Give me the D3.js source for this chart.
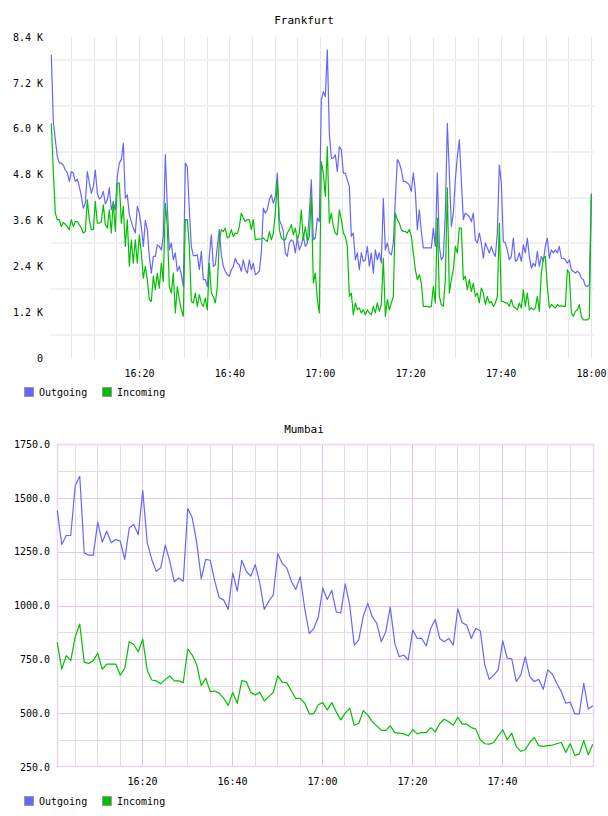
<!DOCTYPE html>
<html><head><meta charset="utf-8">
<script src="https://cdn.jsdelivr.net/npm/d3@7"></script>
<style>body{margin:0;background:#fff}svg{display:block}</style>
</head><body>
<svg id="c" width="608" height="816"></svg>
<script>
// ---------- DATA ----------
const seriesNames = ["Outgoing", "Incoming"];
const seriesColors = ["#6666ff", "#00c000"];

// Frankfurt: samples every 26.55 s starting 16:00:36, values in thousands
const fraStart = [16, 0, 36];
const fraStepMs = 26550;
const fraOutgoing = [
7.93,6.19,5.71,5.27,5.10,5.10,5.05,4.92,4.85,4.62,4.88,4.84,4.62,4.68,4.49,4.23,3.92,4.05,4.88,4.59,4.31,4.49,4.92,4.31,4.16,4.21,4.36,4.03,4.14,4.45,3.88,4.07,3.88,4.75,5.10,5.19,5.62,4.18,4.27,3.75,3.57,3.40,3.27,3.97,3.79,3.44,2.92,3.60,3.36,2.66,2.22,2.66,2.66,2.96,2.92,2.83,3.18,5.32,3.97,2.83,3.01,2.57,2.75,2.27,2.40,2.18,1.87,5.10,5.01,
3.88,2.92,2.68,2.68,2.70,2.31,2.79,2.05,2.05,1.87,2.66,3.22,2.40,2.44,2.92,3.36,2.70,2.40,2.27,2.18,2.14,2.31,2.40,2.61,2.48,2.44,2.27,2.57,2.31,2.22,2.57,2.31,2.48,2.18,2.22,2.27,2.75,3.92,3.79,3.88,4.14,4.27,4.05,4.23,4.84,3.62,3.49,3.31,2.75,2.66,3.01,3.09,3.05,2.75,3.14,2.83,2.96,3.18,2.92,3.01,3.81,4.66,3.09,3.14,3.66,3.57,6.75,6.97,6.84,
8.06,5.88,5.23,5.23,5.32,4.88,5.53,5.45,4.84,4.84,4.66,4.49,3.18,3.27,2.57,2.75,2.31,2.75,2.53,2.57,2.92,2.40,2.75,2.22,2.83,2.57,2.75,2.48,4.18,2.83,3.01,2.75,2.70,3.01,4.14,5.19,5.10,4.92,4.62,4.62,4.58,4.53,4.36,4.84,4.36,3.36,3.88,3.31,2.88,2.88,2.88,2.88,2.88,3.40,2.92,4.84,2.92,2.57,2.66,3.79,6.14,4.84,3.44,3.79,4.66,5.27,5.71,4.66,3.62,
3.79,3.75,3.70,3.57,3.79,3.09,3.01,3.27,3.01,2.61,3.01,2.88,2.75,2.92,2.75,2.66,3.27,5.05,4.58,3.05,3.01,2.83,2.57,2.66,3.14,2.53,2.57,2.75,2.53,2.96,2.75,3.14,2.66,2.35,2.48,2.40,2.79,2.40,2.66,2.53,2.92,3.14,2.61,2.83,2.75,2.83,2.75,2.92,2.61,2.61,2.57,2.48,2.57,2.31,2.27,2.22,2.27,2.22,2.09,2.05,1.89,1.87,1.92,4.31
];
const fraIncoming = [
6.14,4.88,3.79,3.62,3.62,3.44,3.55,3.50,3.44,3.36,3.62,3.44,3.57,3.57,3.49,3.40,3.27,3.31,4.14,3.62,3.36,3.36,4.10,3.53,3.53,3.57,4.01,3.49,3.40,3.88,3.27,4.10,3.31,4.58,4.58,3.53,3.97,2.92,3.62,2.40,3.09,2.48,3.09,2.48,3.22,2.75,2.09,2.40,2.05,1.53,1.48,2.14,1.79,2.22,1.83,2.48,2.00,4.05,3.44,1.87,1.70,2.22,1.18,1.87,1.53,1.26,1.09,3.62,3.62,
2.92,1.48,1.44,1.70,1.35,1.66,1.44,1.35,1.57,1.26,2.48,1.70,1.61,1.44,1.87,3.09,3.36,3.31,3.40,3.14,3.18,3.36,3.18,3.27,3.25,3.44,3.79,3.66,3.57,3.62,3.62,3.36,3.62,3.09,3.11,3.11,3.12,3.14,3.09,3.05,3.31,3.09,3.27,3.79,4.66,3.36,3.14,3.09,3.09,3.27,3.36,3.49,3.22,3.40,3.09,3.27,3.88,3.09,3.44,3.05,3.18,4.23,1.96,2.22,1.53,1.18,5.14,4.84,4.23,
5.53,3.53,3.79,3.44,3.27,3.22,3.88,3.62,3.27,3.18,2.92,1.61,1.70,1.13,1.44,1.26,1.31,1.18,1.26,1.13,1.26,1.18,1.13,1.35,1.18,1.44,1.22,1.40,2.61,1.09,1.53,1.26,1.44,1.61,3.79,3.62,3.53,3.36,3.31,3.31,3.27,3.36,3.18,2.75,2.31,2.05,2.18,1.96,1.35,1.35,1.35,1.33,1.35,1.87,1.44,3.66,1.61,1.40,1.35,2.05,4.45,1.70,2.05,2.31,2.92,2.75,3.40,3.40,2.05,
2.14,1.79,2.05,1.74,1.96,1.61,1.70,1.44,1.83,1.70,1.40,1.61,1.44,1.48,1.35,1.44,1.61,3.53,1.48,1.48,1.44,1.44,1.35,1.53,1.35,1.31,1.26,1.44,1.31,1.79,1.35,1.70,1.26,1.31,1.26,1.31,1.61,1.22,2.22,2.61,2.66,1.87,1.31,1.40,1.35,1.31,1.40,1.35,1.37,1.35,1.35,2.31,2.22,1.18,1.09,1.22,1.26,1.40,1.09,1.00,1.00,1.00,1.05,4.27
];
const fraYTicks = [0, 1.2, 2.4, 3.6, 4.8, 6.0, 7.2, 8.4];
const fraYLabels = ["0", "1.2 K", "2.4 K", "3.6 K", "4.8 K", "6.0 K", "7.2 K", "8.4 K"];
const fraYGrid = [0.6, 1.8, 3.0, 4.2, 5.4, 6.6, 7.8];
const fraXLabels = ["16:20", "16:40", "17:00", "17:20", "17:40", "18:00"];

// Mumbai: one sample per minute starting 16:01:10
const mumStart = [16, 1, 10];
const mumStepMs = 60000;
const mumOutgoing = [
1442,1283,1325,1325,1557,1600,1244,1234,1234,1387,1294,1345,1291,1306,1299,1214,1360,1376,1329,1534,
1291,1214,1159,1175,1280,1206,1110,1128,1113,1450,1407,1291,1124,1214,1210,1113,1036,1025,982,1152,
1067,1210,1159,1136,1190,1105,982,1020,1048,1241,1195,1175,1113,1074,1133,
985,870,893,945,1080,1028,1070,970,965,1100,1000,816,840,950,1010,948,917,832,878,993,
824,762,770,747,886,847,847,812,894,935,847,832,847,816,985,920,909,847,894,883,
724,657,677,701,836,755,752,647,677,762,670,647,657,611,701,682,639,600,546,551,
497,497,639,519,534
];
const mumIncoming = [
829,704,767,744,855,914,736,731,744,778,704,728,728,728,676,708,832,819,785,844,
698,654,650,636,657,673,650,650,642,798,770,724,628,662,600,603,593,569,536,596,
546,651,647,596,585,597,557,577,596,673,644,642,605,568,569,
546,497,497,539,549,515,549,506,469,500,523,444,452,512,492,461,441,420,420,441,
410,407,404,395,423,404,410,410,433,413,452,472,460,444,481,449,449,433,427,377,
358,356,364,395,423,377,407,346,323,331,364,387,349,346,349,352,358,364,318,358,
304,310,373,307,356
];
const mumYTicks = [250, 500, 750, 1000, 1250, 1500, 1750];
const mumYMinor = [375, 625, 875, 1125, 1375, 1625];
const mumXLabels = ["16:20", "16:40", "17:00", "17:20", "17:40"];

// ---------- DRAW ----------
const svg = d3.select("#c");
const FONT = "'DejaVu Sans Mono', monospace";
const T = (h, m, s) => new Date(2020, 0, 1, h, m, s || 0);
const parseHM = s => { const [h, m] = s.split(":").map(Number); return T(h, m, 0); };
const makeTimes = (start, step, n) => d3.range(n).map(i => new Date(T(...start).getTime() + i * step));

function styleAxis(g) {
  g.select(".domain").remove();
  g.attr("font-family", FONT).attr("font-size", 10);
  g.selectAll("text").attr("fill", "#000");
}

function legend(y) {
  const lg = svg.append("g");
  const xs = [24, 102];
  seriesNames.forEach((n, i) => {
    lg.append("rect").attr("x", xs[i] + 0.5).attr("y", y + 0.5).attr("width", 9).attr("height", 9)
      .attr("fill", seriesColors[i]).attr("stroke", "#999");
    lg.append("text").attr("x", xs[i] + 15).attr("y", y + 9).attr("font-family", FONT)
      .attr("font-size", 10).text(n);
  });
}

// ---- Frankfurt ----
{
  const times = makeTimes(fraStart, fraStepMs, fraOutgoing.length);
  const x = d3.scaleTime().domain([T(16, 0), T(18, 0)]).range([48.6, 591]);
  const y = d3.scaleLinear().domain([0, 8.4]).range([358, 37]);
  const L = 51, R = 594;
  svg.append("text").attr("x", 304).attr("y", 24).attr("text-anchor", "middle")
    .attr("font-family", FONT).attr("font-size", 11).text("Frankfurt");
  const grid = svg.append("g");
  d3.timeMinute.every(5).range(T(16, 5), T(18, 0, 1)).forEach(t => {
    const px = Math.round(x(t)) + 0.5;
    grid.append("line").attr("x1", px).attr("x2", px).attr("y1", 37).attr("y2", 358)
      .attr("stroke", "#e6e6e6").attr("stroke-width", 1);
  });
  fraYGrid.forEach(v => {
    grid.append("line").attr("x1", L).attr("x2", R).attr("y1", Math.round(y(v))).attr("y2", Math.round(y(v)))
      .attr("stroke", "#f0f0f0").attr("stroke-width", 2);
  });
  const line = d3.line().x((d, i) => x(times[i])).y(d => y(d));
  [fraOutgoing, fraIncoming].forEach((s, k) => {
    svg.append("path").datum(s).attr("d", line).attr("fill", "none")
      .attr("stroke", seriesColors[k]).attr("stroke-width", 1.2).attr("stroke-linejoin", "round");
  });
  svg.append("g").attr("transform", `translate(${L},0)`)
    .call(d3.axisLeft(y).tickValues(fraYTicks).tickFormat((d, i) => fraYLabels[i]).tickSize(0).tickPadding(8))
    .call(styleAxis);
  svg.append("g").attr("transform", "translate(0,358)")
    .call(d3.axisBottom(x).tickValues(fraXLabels.map(parseHM)).tickFormat(d3.timeFormat("%H:%M")).tickSize(0).tickPadding(12))
    .call(styleAxis);
  legend(387);
}

// ---- Mumbai ----
{
  const times = makeTimes(mumStart, mumStepMs, mumOutgoing.length);
  const x = d3.scaleTime().domain([T(16, 0), T(18, 0)]).range([52, 592]);
  const y = d3.scaleLinear().domain([250, 1750]).range([767, 444]);
  const L = 57, R = 594, TOP = 444, BOT = 767;
  svg.append("text").attr("x", 304).attr("y", 433).attr("text-anchor", "middle")
    .attr("font-family", FONT).attr("font-size", 11).text("Mumbai");
  const grid = svg.append("g");
  const majors = mumXLabels.map(parseHM).map(d => +d);
  d3.timeMinute.every(5).range(T(16, 5), T(18, 0)).forEach(t => {
    const px = Math.round(x(t)) + 0.5;
    if (px > R - 2) return;
    const major = majors.includes(+t);
    grid.append("line").attr("x1", px).attr("x2", px).attr("y1", TOP).attr("y2", BOT)
      .attr("stroke", major ? "#e0c4e0" : "#e0dce0").attr("stroke-width", 1);
  });
  mumYMinor.forEach(v => {
    const py = Math.round(y(v)) + 0.5;
    grid.append("line").attr("x1", L).attr("x2", R).attr("y1", py).attr("y2", py)
      .attr("stroke", "#e0dce0").attr("stroke-width", 1);
  });
  mumYTicks.slice(1, -1).forEach(v => {
    const py = Math.round(y(v)) + 0.5;
    grid.append("line").attr("x1", L).attr("x2", R).attr("y1", py).attr("y2", py)
      .attr("stroke", "#e6c8e6").attr("stroke-width", 1);
  });
  grid.append("rect").attr("x", L + 0.5).attr("y", TOP + 0.5).attr("width", R - L - 1).attr("height", BOT - TOP - 1)
    .attr("fill", "none").attr("stroke", "#ecd8ec").attr("stroke-width", 1.5);
  const line = d3.line().x((d, i) => x(times[i])).y(d => y(d));
  [mumOutgoing, mumIncoming].forEach((s, k) => {
    svg.append("path").datum(s).attr("d", line).attr("fill", "none")
      .attr("stroke", seriesColors[k]).attr("stroke-width", 1.2).attr("stroke-linejoin", "round");
  });
  svg.append("g").attr("transform", `translate(${L},0)`)
    .call(d3.axisLeft(y).tickValues(mumYTicks).tickFormat(d3.format(".1f")).tickSize(0).tickPadding(7))
    .call(styleAxis);
  svg.append("g").attr("transform", `translate(0,${BOT})`)
    .call(d3.axisBottom(x).tickValues(mumXLabels.map(parseHM)).tickFormat(d3.timeFormat("%H:%M")).tickSize(0).tickPadding(11))
    .call(styleAxis);
  legend(796);
}
</script>
</body></html>
